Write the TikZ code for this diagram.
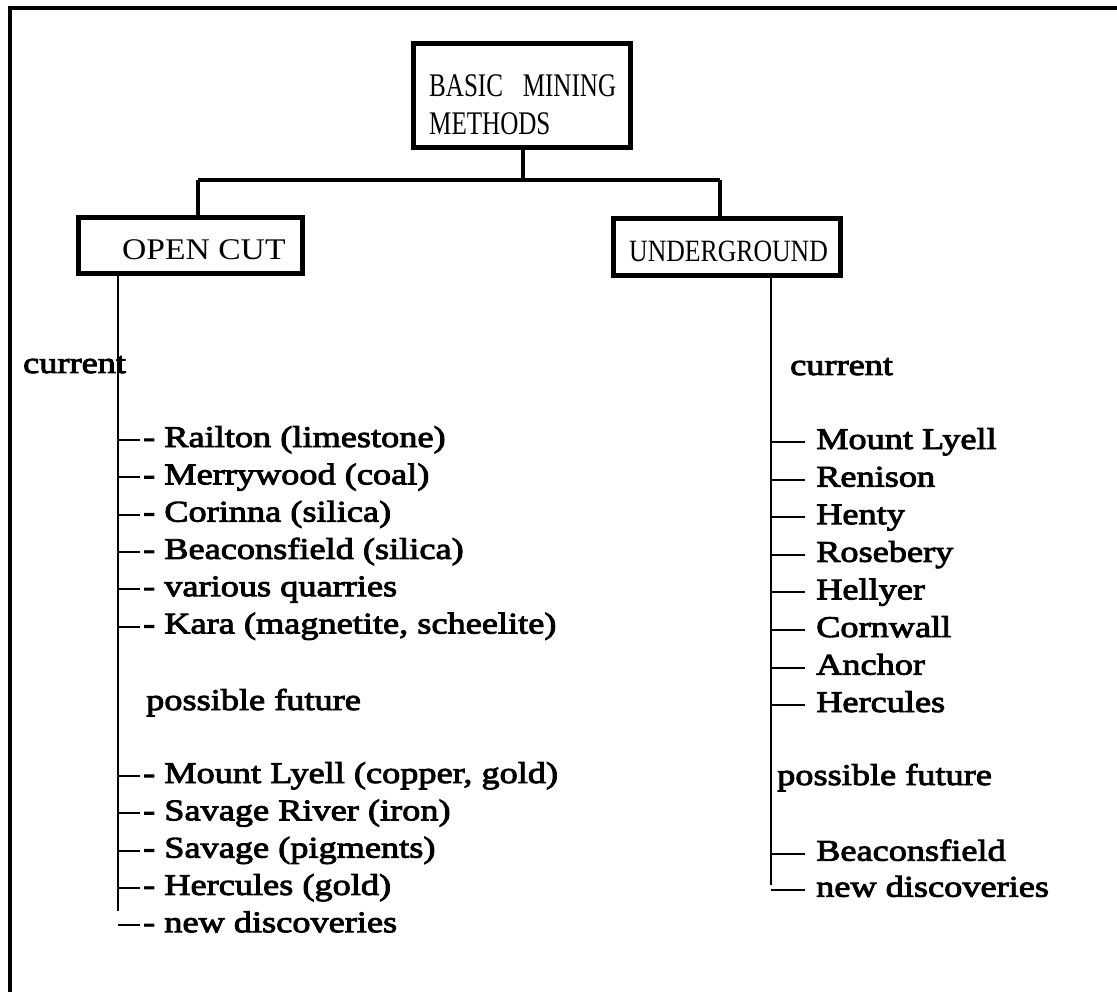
\documentclass[tikz,border=0pt]{standalone}
\usepackage{graphicx}
\usepackage{fontspec}
\setmainfont{Liberation Serif}
\newfontfamily\listfont{Liberation Serif}[FakeStretch=1.21,FakeBold=3]
\newfontfamily\headfont{Liberation Serif}
\begin{document}
\begin{tikzpicture}[x=1pt,y=-1pt,
  pageedge/.style={line width=4pt},
  box/.style={draw,line width=5pt,inner sep=0pt},
  link/.style={line width=4pt},
  trunk/.style={line width=2.2pt},
  tick/.style={line width=2pt},
  head/.style={inner sep=0pt,anchor=base west,font=\headfont\fontsize{30pt}{36pt}\selectfont},
  item/.style={inner sep=0pt,anchor=base west,text height=20pt,text depth=6pt,
               font=\listfont\fontsize{30pt}{36pt}\selectfont},
]
\useasboundingbox (0,0) rectangle (1117,992);
\fill[white] (-10,-10) rectangle (1130,1005);

% page edge (top and left sides only)
\draw[pageedge] (10,1000) -- (10,8.5) -- (1130,8.5);

% the three headed boxes
\node[box,minimum width=217pt,minimum height=104pt] (top) at (522,96) {};
\node[box,minimum width=224pt,minimum height=56pt] (open) at (190.5,245.5) {};
\node[box,minimum width=227pt,minimum height=56.5pt] (under) at (727,247) {};

\node[head,font=\headfont\fontsize{33pt}{38pt}\selectfont] (t1) at (429,97)
  {\scalebox{0.76}[1]{BASIC\hspace{26pt}MINING}};
\node[head,font=\headfont\fontsize{33pt}{38pt}\selectfont] (t2) at (429,135)
  {\scalebox{0.76}[1]{METHODS}};
\node[head] (t3) at (122,260) {\scalebox{1.12}[1]{OPEN CUT}};
\node[head,font=\headfont\fontsize{31pt}{36pt}\selectfont] (t4) at (629,262)
  {\scalebox{0.83}[1]{UNDERGROUND}};

% bus joining the boxes
\coordinate (busL) at (198,180.5);
\coordinate (busR) at (720,180.5);
\draw[link] (busL) -- (busR);
\draw[link] (top.south -| 522.7,0) -- (busL -| 522.7,0);
\draw[link] (busL) -- (busL |- open.north);
\draw[link] (busR) -- (busR |- under.north);

% trunks below the two methods
\coordinate (ltop) at (118.3,276);
\coordinate (lbot) at (118.3,911);
\coordinate (rtop) at (771.3,278);
\coordinate (rbot) at (771.3,885);
\draw[trunk] (ltop) -- (lbot);
\draw[trunk] (rtop) -- (rbot);

% open cut list
\node[item] (lc) at (23,373) {current};
\node[item] (l1) at (143,447) {- Railton (limestone)};
\node[item] (l2) at (143,484.3) {- Merrywood (coal)};
\node[item] (l3) at (143,521.6) {- Corinna (silica)};
\node[item] (l4) at (143,558.9) {- Beaconsfield (silica)};
\node[item] (l5) at (143,596.2) {- various quarries};
\node[item] (l6) at (143,633.5) {- Kara (magnetite, scheelite)};
\node[item] (lf) at (146,710) {possible future};
\node[item] (l7) at (143,783) {- Mount Lyell (copper, gold)};
\node[item] (l8) at (143,820.3) {- Savage River (iron)};
\node[item] (l9) at (143,857.6) {- Savage (pigments)};
\node[item] (l10) at (143,894.9) {- Hercules (gold)};
\node[item] (l11) at (143,932.2) {- new discoveries};
\foreach \n in {l1,l2,l3,l4,l5,l6,l7,l8,l9,l10,l11}
  \draw[tick] (ltop |- \n.west) -- ([xshift=-3pt]\n.west);

% underground list
\node[item] (rc) at (790,375) {current};
\node[item] (r1) at (816,449) {Mount Lyell};
\node[item] (r2) at (816,486.6) {Renison};
\node[item] (r3) at (816,524.2) {Henty};
\node[item] (r4) at (816,561.8) {Rosebery};
\node[item] (r5) at (816,599.4) {Hellyer};
\node[item] (r6) at (816,637) {Cornwall};
\node[item] (r7) at (816,674.6) {Anchor};
\node[item] (r8) at (816,712) {Hercules};
\node[item] (rf) at (777,785) {possible future};
\node[item] (r9) at (816,860.7) {Beaconsfield};
\node[item] (r10) at (816,896.7) {new discoveries};
\foreach \n in {r1,r2,r3,r4,r5,r6,r7,r8,r9,r10}
  \draw[tick] (rtop |- \n.west) -- ([xshift=-11pt]\n.west);
\end{tikzpicture}
\end{document}
